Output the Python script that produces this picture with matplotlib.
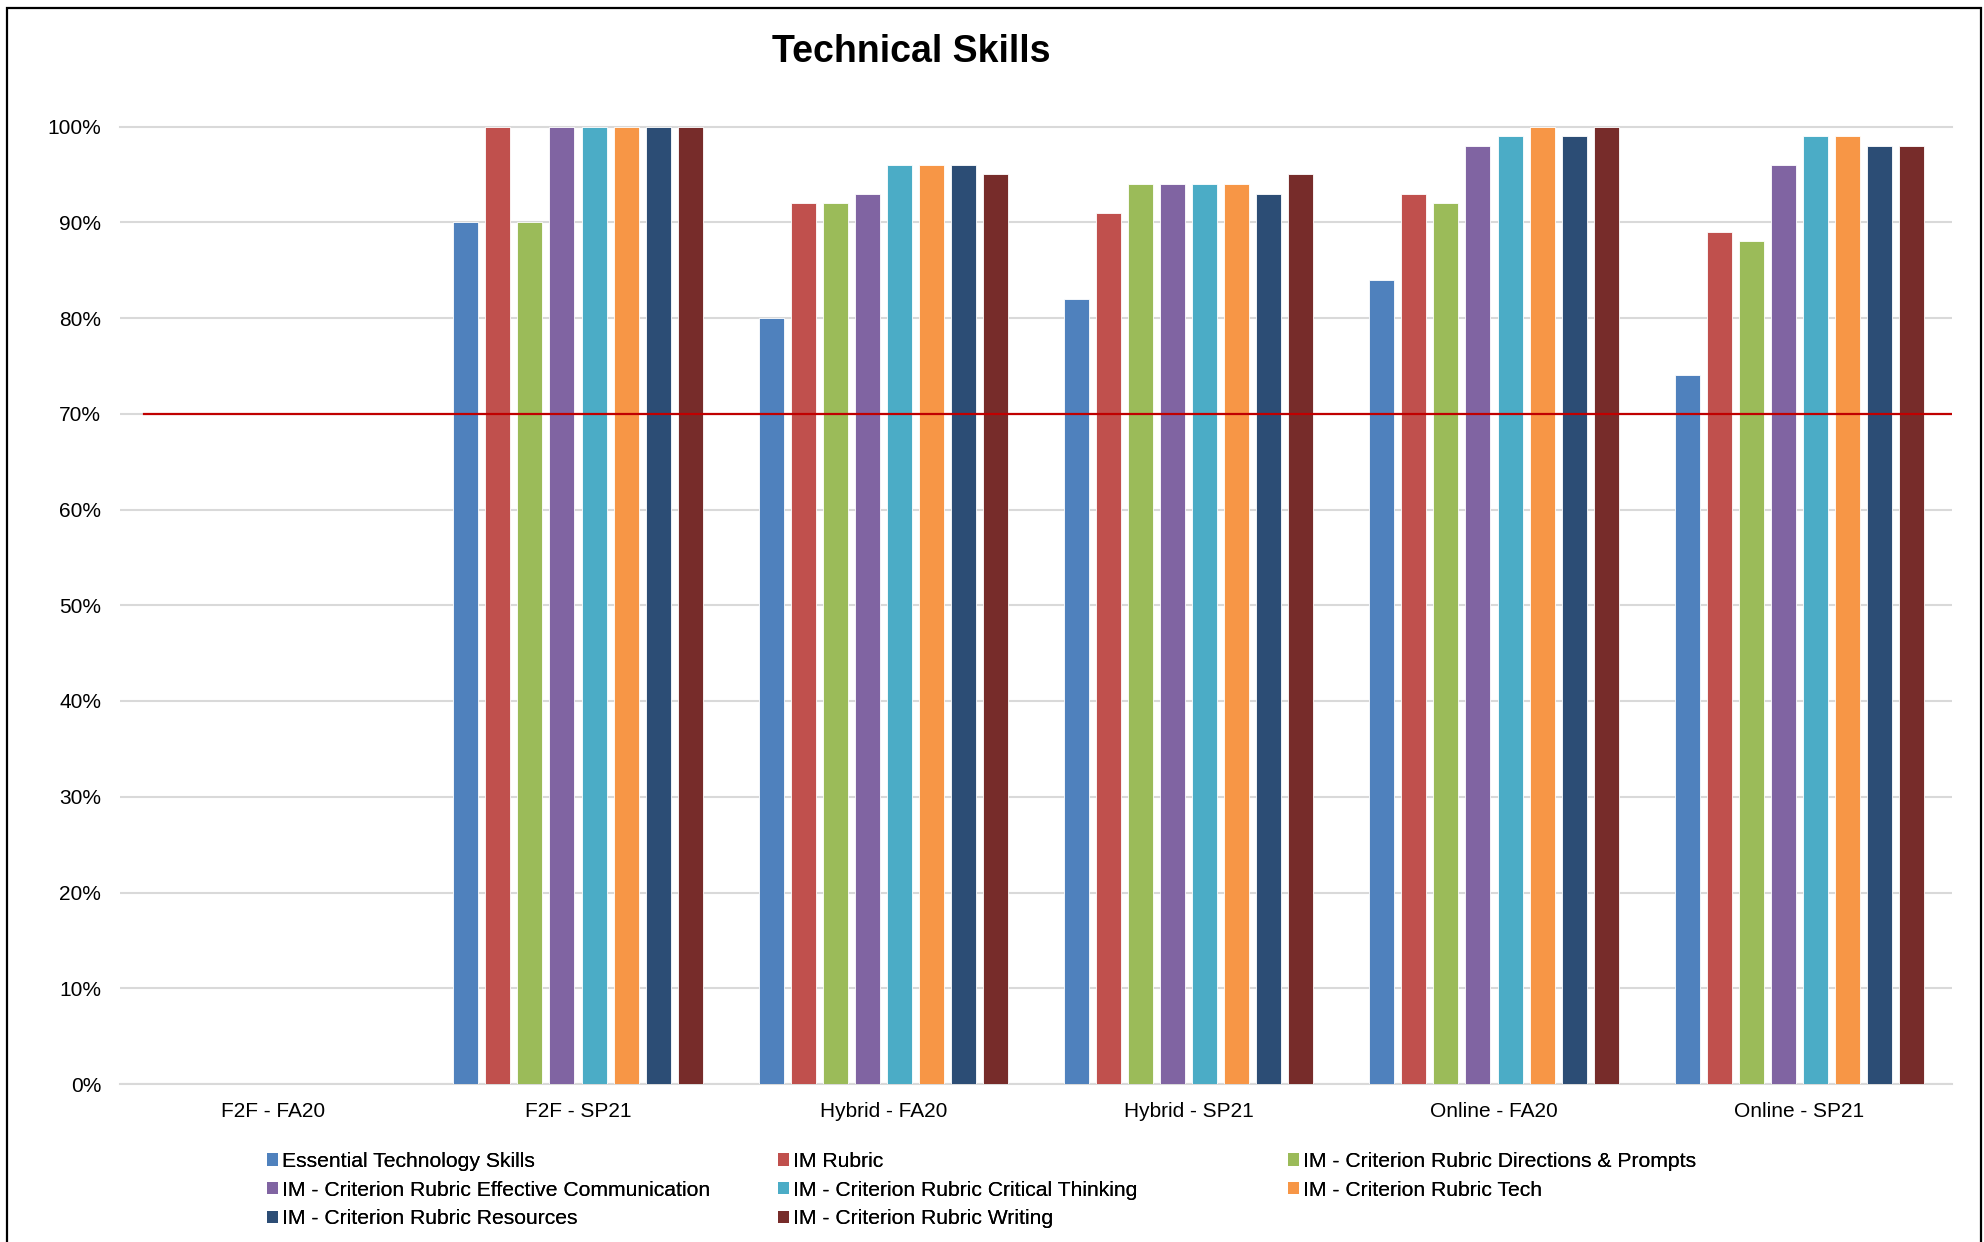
import numpy as np
import matplotlib
matplotlib.use("Agg")
import matplotlib.pyplot as plt
from matplotlib.patches import Patch, Rectangle
from matplotlib.ticker import PercentFormatter

plt.rcParams['font.family'] = ['Liberation Sans', 'DejaVu Sans']

categories = ["F2F - FA20", "F2F - SP21", "Hybrid - FA20", "Hybrid - SP21", "Online - FA20", "Online - SP21"]
series_names = [
    "Essential Technology Skills",
    "IM Rubric",
    "IM - Criterion Rubric Directions & Prompts",
    "IM - Criterion Rubric Effective Communication",
    "IM - Criterion Rubric Critical Thinking",
    "IM - Criterion Rubric Tech",
    "IM - Criterion Rubric Resources",
    "IM - Criterion Rubric Writing",
]
nan = np.nan
essential_tech = [nan, 0.90, 0.80, 0.82, 0.84, 0.74]
im_rubric = [nan, 1.00, 0.92, 0.91, 0.93, 0.89]
directions_prompts = [nan, 0.90, 0.92, 0.94, 0.92, 0.88]
effective_comm = [nan, 1.00, 0.93, 0.94, 0.98, 0.96]
critical_thinking = [nan, 1.00, 0.96, 0.94, 0.99, 0.99]
tech = [nan, 1.00, 0.96, 0.94, 1.00, 0.99]
resources = [nan, 1.00, 0.96, 0.93, 0.99, 0.98]
writing = [nan, 1.00, 0.95, 0.95, 1.00, 0.98]
target = 0.70
yticks = [0.0, 0.1, 0.2, 0.3, 0.4, 0.5, 0.6, 0.7, 0.8, 0.9, 1.0]

series_values = [essential_tech, im_rubric, directions_prompts, effective_comm,
                 critical_thinking, tech, resources, writing]
colors = ["#4F81BD", "#C0504D", "#9BBB59", "#8064A2", "#4BACC6", "#F79646", "#2C4D75", "#772C2A"]

W, H = 1984, 1242
fig = plt.figure(figsize=(W / 100, H / 100), dpi=100)
ax = fig.add_axes([120 / W, (H - 1084) / H, (1952 - 120) / W, (1084 - 126.5) / H])

x = np.arange(len(categories))
bar_w = 0.082
step = 0.105
n = len(series_values)
for i, (vals, col, name) in enumerate(zip(series_values, colors, series_names)):
    offs = (i - (n - 1) / 2) * step
    ax.bar(x + offs, vals, width=bar_w, color=col, edgecolor='white', linewidth=0.6,
           label=name, zorder=3)

ax.plot([-0.42, len(categories) - 0.5], [target, target], color="#C00000", lw=1.6, zorder=4)

ax.set_xlim(-0.5, len(categories) - 0.5)
ax.set_ylim(0, 1.0)
ax.set_yticks(yticks)
ax.yaxis.set_major_formatter(PercentFormatter(1.0, decimals=0))
ax.set_xticks(x)
ax.set_xticklabels(categories)
ax.grid(axis='y', color='#D9D9D9', lw=1.5, zorder=0)
ax.set_axisbelow(True)
for s in ['top', 'right', 'left']:
    ax.spines[s].set_visible(False)
ax.spines['bottom'].set_color('#D9D9D9')
ax.spines['bottom'].set_linewidth(1.5)
ax.tick_params(axis='both', length=0, labelsize=15, colors='black')
ax.tick_params(axis='y', pad=13.5)
ax.tick_params(axis='x', pad=13)
ax.yaxis.get_gridlines()[-1].set_clip_on(False)

fig.text(911 / W, 1 - 52 / H, "Technical Skills", ha='center', va='center',
         fontsize=27, fontweight='bold')

# legend in three columns
handles = [Patch(facecolor=c, edgecolor='none') for c in colors]
col_x = [267, 778, 1288]
for ci in range(3):
    idx = [k for k in range(ci, n, 3)]
    leg = fig.legend([handles[k] for k in idx], [series_names[k] for k in idx],
                     loc='upper left', bbox_to_anchor=(col_x[ci] / W, 1 - 1152 / H),
                     frameon=False, fontsize=15.2, handlelength=0.5, handleheight=0.5,
                     handletextpad=0.2, labelspacing=0.46, borderpad=0, borderaxespad=0)
    fig.add_artist(leg)

fig.add_artist(Rectangle((7 / W, -0.05), (1981 - 7) / W, 1.05 - 8 / H, transform=fig.transFigure,
                         fill=False, edgecolor='black', lw=1.6))

fig.savefig("out.png", dpi=100, facecolor='white')
